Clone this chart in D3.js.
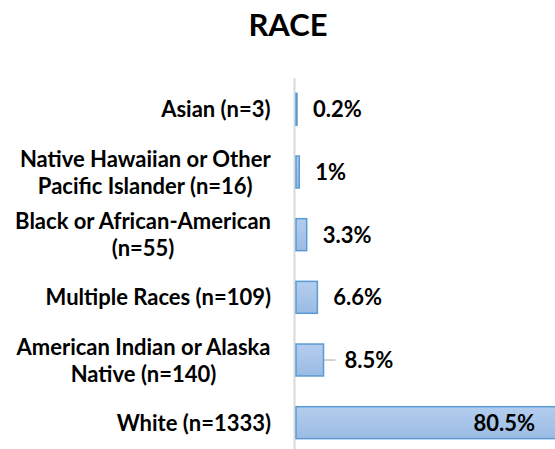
<!DOCTYPE html>
<html>
<head>
<meta charset="utf-8">
<script src="https://cdn.jsdelivr.net/npm/d3@7"></script>
<style>
  body { margin: 0; background: #fff; }
  text { font-family: Lato, "Open Sans", sans-serif; font-weight: bold; fill: #000; }
</style>
</head>
<body>
<svg id="chart" width="555" height="449"></svg>
<script>
// chart data
const categories = [
  ["Asian (n=3)"],
  ["Native Hawaiian or Other", "Pacific Islander (n=16)"],
  ["Black or African-American", "(n=55)"],
  ["Multiple Races (n=109)"],
  ["American Indian or Alaska", "Native (n=140)"],
  ["White (n=1333)"]
];
const values = [0.2, 1, 3.3, 6.6, 8.5, 80.5];
const valueLabels = ["0.2%", "1%", "3.3%", "6.6%", "8.5%", "80.5%"];
const title = "RACE";

const svg = d3.select("#chart");
const W = 555, H = 449;
const margin = { top: 78, left: 296, right: 0 };
const fs = "22px";

const keys = categories.map((c, i) => i);
const y = d3.scaleBand().domain(keys).range([margin.top, margin.top + 376]).paddingInner(0.49).paddingOuter(0.245);
// plot runs a bit past the right edge, the big bar gets cut off like in the picture
const x = d3.scaleLinear().domain([0, 80]).range([margin.left, W]);

// gradient fill like the excel bars
const defs = svg.append("defs");
const grad = defs.append("linearGradient").attr("id", "barGrad")
  .attr("x1", 0).attr("y1", 0).attr("x2", 0).attr("y2", 1);
grad.append("stop").attr("offset", "0%").attr("stop-color", "#b3cdee");
grad.append("stop").attr("offset", "100%").attr("stop-color", "#9bbbe4");

svg.append("text")
  .attr("x", 288).attr("y", 36)
  .attr("text-anchor", "middle")
  .style("font-size", "31px")
  .text(title);

// vertical axis line (drawn first so thin bars still show)
svg.append("line")
  .attr("x1", x(0) - 1.5).attr("x2", x(0) - 1.5)
  .attr("y1", margin.top).attr("y2", H)
  .style("stroke", "#d9d9d9").style("stroke-width", 2);

// bars
svg.selectAll(".bar").data(values).enter()
  .append("rect")
  .attr("class", "bar")
  .attr("x", x(0))
  .attr("y", (d, i) => y(i))
  .attr("width", d => Math.max(1, x(d) - x(0)))
  .attr("height", y.bandwidth())
  .style("fill", "url(#barGrad)")
  .style("stroke", "#5b9bd5")
  .style("stroke-width", 1.5);

// category labels (centered block, right edge near axis)
const labelRight = x(0) - 25;
categories.forEach((lines, i) => {
  const lh = 27;
  const y0 = y(i) + y.bandwidth() / 2 - (lines.length - 1) * lh / 2 + 8;
  const t = svg.append("text").style("font-size", fs).attr("text-anchor", "middle");
  lines.forEach((ln, k) => {
    t.append("tspan").attr("x", 0).attr("y", y0 + k * lh).text(ln);
  });
  const w = t.node().getBBox().width;
  t.attr("transform", `translate(${labelRight - w / 2},0)`);
});

// value labels
values.forEach((v, i) => {
  const cy = y(i) + y.bandwidth() / 2;
  if (i === values.length - 1) {
    svg.append("text")
      .attr("x", W - 20).attr("y", cy + 8)
      .attr("text-anchor", "end")
      .style("font-size", fs)
      .text(valueLabels[i]);
    return;
  }
  let off = 16;
  if (i === 4) {
    // leader line
    svg.append("line")
      .attr("x1", x(v)).attr("x2", x(v) + 12)
      .attr("y1", cy).attr("y2", cy)
      .style("stroke", "#a6a6a6").style("stroke-width", 1);
    off = 21;
  }
  svg.append("text")
    .attr("x", Math.max(x(v), x(0) + 1) + off).attr("y", cy + 8)
    .style("font-size", fs)
    .text(valueLabels[i]);
});
</script>
</body>
</html>
